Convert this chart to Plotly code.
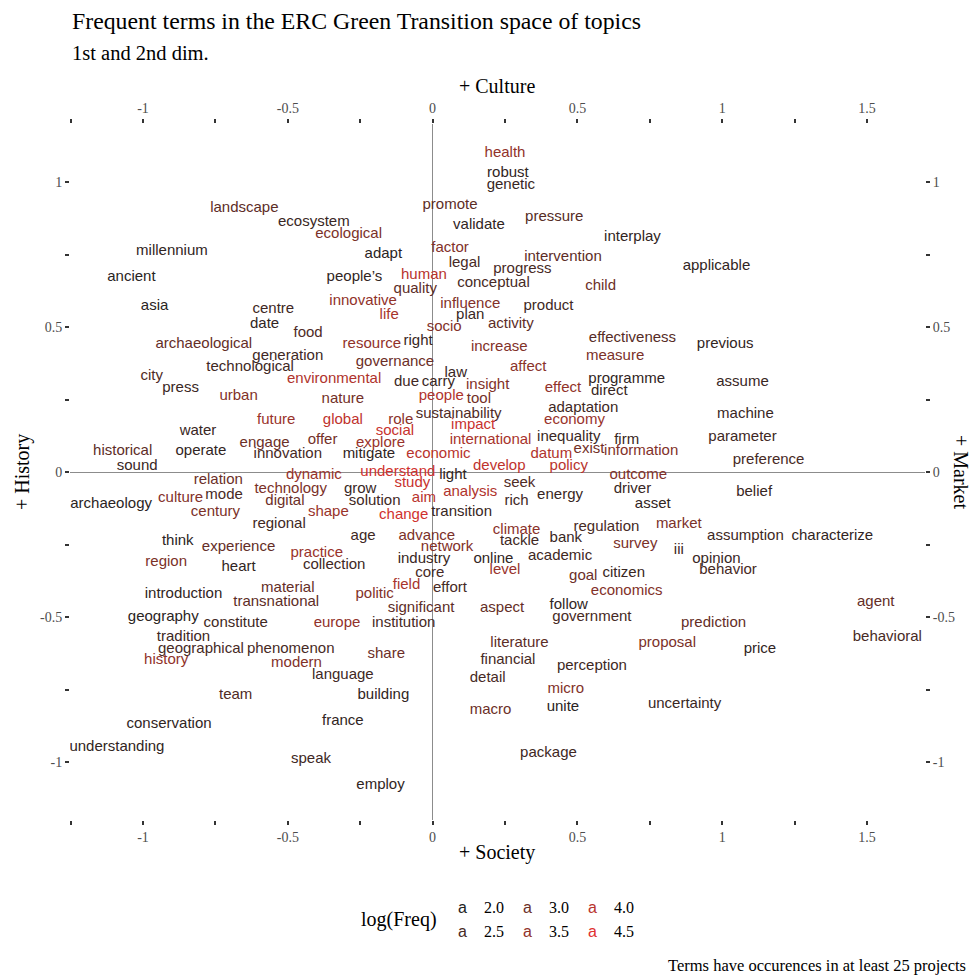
import plotly.graph_objects as go


# terms, their coordinates on the 1st / 2nd dimension and log frequency
WORDS = [
    'health', 'robust', 'genetic', 'promote', 'landscape', 'ecosystem', 'ecological', 'validate',
    'pressure', 'interplay', 'millennium', 'adapt', 'factor', 'legal', 'progress', 'intervention',
    'applicable', 'ancient', 'people\u2019s', 'human', 'quality', 'conceptual', 'child', 'innovative',
    'influence', 'product', 'asia', 'centre', 'life', 'plan', 'date', 'food',
    'socio', 'activity', 'effectiveness', 'previous', 'archaeological', 'resource', 'right', 'increase',
    'generation', 'measure', 'governance', 'technological', 'law', 'affect', 'city', 'press',
    'environmental', 'due', 'carry', 'insight', 'effect', 'programme', 'direct', 'assume',
    'urban', 'nature', 'people', 'tool', 'sustainability', 'adaptation', 'role', 'economy',
    'machine', 'future', 'global', 'water', 'impact', 'social', 'inequality', 'firm',
    'parameter', 'international', 'offer', 'explore', 'engage', 'historical', 'operate', 'innovation',
    'mitigate', 'economic', 'exist', 'datum', 'information', 'preference', 'sound', 'develop',
    'policy', 'dynamic', 'understand', 'light', 'outcome', 'relation', 'study', 'seek',
    'technology', 'grow', 'analysis', 'driver', 'belief', 'archaeology', 'culture', 'mode',
    'digital', 'solution', 'aim', 'rich', 'energy', 'asset', 'century', 'shape',
    'change', 'transition', 'regional', 'climate', 'regulation', 'market', 'assumption', 'characterize',
    'age', 'advance', 'tackle', 'bank', 'survey', 'think', 'experience', 'network',
    'practice', 'iii', 'region', 'collection', 'industry', 'online', 'academic', 'opinion',
    'heart', 'core', 'level', 'goal', 'citizen', 'behavior', 'field', 'effort',
    'material', 'introduction', 'politic', 'economics', 'transnational', 'significant', 'aspect', 'follow',
    'agent', 'geography', 'constitute', 'europe', 'institution', 'government', 'prediction', 'tradition',
    'literature', 'proposal', 'behavioral', 'geographical', 'phenomenon', 'price', 'history', 'modern',
    'financial', 'share', 'perception', 'language', 'detail', 'team', 'building', 'micro',
    'conservation', 'france', 'macro', 'unite', 'uncertainty', 'understanding', 'package', 'speak',
    'employ',
]

DIM1 = [
    0.25, 0.26, 0.27, 0.06, -0.65, -0.41, -0.29, 0.16,
    0.42, 0.69, -0.90, -0.17, 0.06, 0.11, 0.31, 0.45,
    0.98, -1.04, -0.27, -0.03, -0.06, 0.21, 0.58, -0.24,
    0.13, 0.40, -0.96, -0.55, -0.15, 0.13, -0.58, -0.43,
    0.04, 0.27, 0.69, 1.01, -0.79, -0.21, -0.05, 0.23,
    -0.50, 0.63, -0.13, -0.63, 0.08, 0.33, -0.97, -0.87,
    -0.34, -0.09, 0.02, 0.19, 0.45, 0.67, 0.61, 1.07,
    -0.67, -0.31, 0.03, 0.16, 0.09, 0.52, -0.11, 0.49,
    1.08, -0.54, -0.31, -0.81, 0.14, -0.13, 0.47, 0.67,
    1.07, 0.20, -0.38, -0.18, -0.58, -1.07, -0.80, -0.50,
    -0.22, 0.02, 0.54, 0.41, 0.72, 1.16, -1.02, 0.23,
    0.47, -0.41, -0.12, 0.07, 0.71, -0.74, -0.07, 0.30,
    -0.49, -0.25, 0.13, 0.69, 1.11, -1.11, -0.87, -0.72,
    -0.51, -0.20, -0.03, 0.29, 0.44, 0.76, -0.75, -0.36,
    -0.10, 0.10, -0.53, 0.29, 0.60, 0.85, 1.08, 1.38,
    -0.24, -0.02, 0.30, 0.46, 0.70, -0.88, -0.67, 0.05,
    -0.40, 0.85, -0.92, -0.34, -0.03, 0.21, 0.44, 0.98,
    -0.67, -0.01, 0.25, 0.52, 0.66, 1.02, -0.09, 0.06,
    -0.50, -0.86, -0.20, 0.67, -0.54, -0.04, 0.24, 0.47,
    1.53, -0.93, -0.68, -0.33, -0.10, 0.55, 0.97, -0.86,
    0.30, 0.81, 1.57, -0.80, -0.49, 1.13, -0.92, -0.47,
    0.26, -0.16, 0.55, -0.31, 0.19, -0.68, -0.17, 0.46,
    -0.91, -0.31, 0.20, 0.45, 0.87, -1.09, 0.40, -0.42,
    -0.18,
]

DIM2 = [
    1.10, 1.03, 0.99, 0.92, 0.91, 0.86, 0.82, 0.85,
    0.88, 0.81, 0.76, 0.75, 0.77, 0.72, 0.70, 0.74,
    0.71, 0.67, 0.67, 0.68, 0.63, 0.65, 0.64, 0.59,
    0.58, 0.57, 0.57, 0.56, 0.54, 0.54, 0.51, 0.48,
    0.50, 0.51, 0.46, 0.44, 0.44, 0.44, 0.45, 0.43,
    0.40, 0.40, 0.38, 0.36, 0.34, 0.36, 0.33, 0.29,
    0.32, 0.31, 0.31, 0.30, 0.29, 0.32, 0.28, 0.31,
    0.26, 0.25, 0.26, 0.25, 0.20, 0.22, 0.18, 0.18,
    0.20, 0.18, 0.18, 0.14, 0.16, 0.14, 0.12, 0.11,
    0.12, 0.11, 0.11, 0.10, 0.10, 0.07, 0.07, 0.06,
    0.06, 0.06, 0.08, 0.06, 0.07, 0.04, 0.02, 0.02,
    0.02, -0.01, 0.00, -0.01, -0.01, -0.03, -0.04, -0.04,
    -0.06, -0.06, -0.07, -0.06, -0.07, -0.11, -0.09, -0.08,
    -0.10, -0.10, -0.09, -0.10, -0.08, -0.11, -0.14, -0.14,
    -0.15, -0.14, -0.18, -0.20, -0.19, -0.18, -0.22, -0.22,
    -0.22, -0.22, -0.24, -0.23, -0.25, -0.24, -0.26, -0.26,
    -0.28, -0.27, -0.31, -0.32, -0.30, -0.30, -0.29, -0.30,
    -0.33, -0.35, -0.34, -0.36, -0.35, -0.34, -0.39, -0.40,
    -0.40, -0.42, -0.42, -0.41, -0.45, -0.47, -0.47, -0.46,
    -0.45, -0.50, -0.52, -0.52, -0.52, -0.50, -0.52, -0.57,
    -0.59, -0.59, -0.57, -0.61, -0.61, -0.61, -0.65, -0.66,
    -0.65, -0.63, -0.67, -0.70, -0.71, -0.77, -0.77, -0.75,
    -0.87, -0.86, -0.82, -0.81, -0.80, -0.95, -0.97, -0.99,
    -1.08,
]

LOG_FREQ = [
    3.5, 2.2, 2.3, 2.8, 2.8, 2.3, 3.2, 2.2,
    2.7, 2.2, 2.2, 2.1, 3.3, 2.5, 2.5, 2.8,
    2.2, 2.1, 2.2, 4.0, 2.8, 2.5, 3.0, 3.5,
    3.3, 2.4, 2.1, 2.4, 3.8, 2.3, 2.2, 2.6,
    3.3, 2.8, 2.7, 2.2, 2.9, 3.5, 2.3, 3.3,
    2.4, 3.2, 3.0, 2.4, 2.3, 3.4, 2.6, 2.3,
    3.9, 2.4, 2.3, 3.3, 3.5, 2.2, 2.3, 2.3,
    3.3, 3.1, 3.9, 3.1, 2.6, 2.4, 3.4, 3.6,
    2.3, 3.6, 4.1, 2.3, 4.2, 4.2, 2.3, 2.3,
    2.4, 3.8, 3.1, 3.6, 3.0, 2.8, 2.2, 2.5,
    2.2, 4.0, 3.1, 3.9, 3.3, 2.5, 2.3, 4.1,
    4.0, 3.6, 4.3, 2.2, 3.3, 3.0, 4.2, 2.6,
    3.2, 2.3, 3.9, 2.3, 2.3, 2.1, 3.3, 2.5,
    3.0, 2.4, 4.0, 2.4, 2.3, 2.2, 3.2, 3.6,
    4.3, 2.3, 2.4, 3.4, 2.5, 3.2, 2.4, 2.2,
    2.4, 3.2, 2.4, 2.3, 3.2, 2.1, 2.9, 3.3,
    3.6, 2.4, 3.2, 2.4, 2.3, 2.2, 2.4, 2.3,
    2.2, 2.5, 3.6, 3.0, 2.3, 2.5, 3.8, 2.5,
    2.9, 2.2, 3.3, 3.3, 2.8, 2.8, 2.9, 2.2,
    2.9, 2.1, 2.4, 3.5, 2.5, 2.5, 2.9, 2.4,
    2.8, 3.2, 2.5, 2.5, 2.5, 2.2, 3.5, 3.3,
    2.5, 3.0, 2.4, 2.4, 2.5, 2.6, 2.2, 3.3,
    2.2, 2.2, 3.0, 2.1, 2.3, 2.2, 2.4, 2.4,
    2.2,
]

LEGEND_LEVELS = [2.0, 2.5, 3.0, 3.5, 4.0, 4.5]

TICK_VALS = [-1.25, -1, -0.75, -0.5, -0.25, 0, 0.25, 0.5, 0.75, 1, 1.25, 1.5]
TICK_TEXT = ['', '-1', '', '-0.5', '', '0', '', '0.5', '', '1', '', '1.5']

LOW, HIGH = '#222222', '#e02f2f'
FMIN, FMAX = 2.0, 4.5

SANS = 'Liberation Sans, Arial, sans-serif'
SERIF = 'Liberation Serif, Times New Roman, serif'

# the page puts the figure 8px in from the top-left corner
PAGE = 8
W, H = 979 - PAGE, 976 - PAGE
PANEL = dict(left=70, right=925, top=124, bottom=820)   # panel edges in the window
M = dict(l=PANEL['left'] - PAGE, r=979 - PANEL['right'],
         t=PANEL['top'] - PAGE, b=976 - PANEL['bottom'])


def hexToRgb(h):
    h = h.lstrip('#')
    return [int(h[i:i + 2], 16) / 255 for i in (0, 2, 4)]


def rgbToLab(rgb):
    '''
    sRGB (0-1) to CIELAB, D65
    '''
    lin = [c / 12.92 if c <= 0.04045 else ((c + 0.055) / 1.055) ** 2.4 for c in rgb]
    x = (0.4124 * lin[0] + 0.3576 * lin[1] + 0.1805 * lin[2]) / 0.95047
    y = (0.2126 * lin[0] + 0.7152 * lin[1] + 0.0722 * lin[2])
    z = (0.0193 * lin[0] + 0.1192 * lin[1] + 0.9505 * lin[2]) / 1.08883

    def f(t):
        return t ** (1 / 3) if t > 0.008856 else 7.787 * t + 16 / 116

    fx, fy, fz = f(x), f(y), f(z)
    return [116 * fy - 16, 500 * (fx - fy), 200 * (fy - fz)]


def labToHex(lab):
    L, a, b = lab
    fy = (L + 16) / 116
    fx = fy + a / 500
    fz = fy - b / 200

    def finv(t):
        return t ** 3 if t ** 3 > 0.008856 else (t - 16 / 116) / 7.787

    x, y, z = finv(fx) * 0.95047, finv(fy), finv(fz) * 1.08883
    lin = [3.2406 * x - 1.5372 * y - 0.4986 * z,
           -0.9689 * x + 1.8758 * y + 0.0415 * z,
           0.0557 * x - 0.2040 * y + 1.0570 * z]
    out = []
    for c in lin:
        c = max(0.0, min(1.0, c))
        c = 12.92 * c if c <= 0.0031308 else 1.055 * c ** (1 / 2.4) - 0.055
        out.append(int(round(c * 255)))
    return '#%02x%02x%02x' % tuple(out)


LAB_LOW, LAB_HIGH = rgbToLab(hexToRgb(LOW)), rgbToLab(hexToRgb(HIGH))


def freqColor(v):
    t = max(0.0, min(1.0, (v - FMIN) / (FMAX - FMIN)))
    return labToHex([lo + (hi - lo) * t for lo, hi in zip(LAB_LOW, LAB_HIGH)])


def paperX(px):
    # px: position in the browser window
    return (px - PANEL['left']) / (PANEL['right'] - PANEL['left'])


def paperY(py):
    return (PANEL['bottom'] - py) / (PANEL['bottom'] - PANEL['top'])


def axisStyle(**kw):
    d = dict(
        range=[-1.252, 1.70], tickvals=TICK_VALS, ticktext=TICK_TEXT,
        ticks='outside', ticklen=4, tickwidth=2, tickcolor='#333333',
        tickfont=dict(family=SERIF, size=14, color='#4d4d4d'),
        showgrid=False, showline=False, zeroline=False, automargin=False,
    )
    d.update(kw)
    return d


fig = go.Figure()

fig.add_trace(go.Scatter(
    x=DIM1, y=DIM2, mode='text', text=WORDS,
    textposition='middle center', cliponaxis=True,
    textfont=dict(family=SANS, size=15, color=[freqColor(v) for v in LOG_FREQ]),
    showlegend=False, hoverinfo='text',
))

# empty trace so the mirrored top / right axes get drawn
fig.add_trace(go.Scatter(x=[None], y=[None], xaxis='x2', yaxis='y2',
                         mode='markers', showlegend=False, hoverinfo='skip'))

fig.update_layout(
    width=W, height=H, autosize=False, margin=M,
    plot_bgcolor='white', paper_bgcolor='white',
    xaxis=axisStyle(zeroline=True, zerolinecolor='#8c8c8c', zerolinewidth=1),
    xaxis2=axisStyle(overlaying='x', side='top', matches='x'),
    yaxis=axisStyle(range=[-1.2, 1.2], tickvals=TICK_VALS[1:-2], ticktext=TICK_TEXT[1:-2],
                    zeroline=True, zerolinecolor='#8c8c8c', zerolinewidth=1),
    yaxis2=axisStyle(range=[-1.2, 1.2], tickvals=TICK_VALS[1:-2], ticktext=TICK_TEXT[1:-2],
                     overlaying='y', side='right', matches='y'),
)

notes = [
    dict(text='Frequent terms in the ERC Green Transition space of topics', x=paperX(70), y=paperY(21),
         xanchor='left', font=dict(family=SERIF, size=23.8, color='black')),
    dict(text='1st and 2nd dim.', x=paperX(70), y=paperY(53),
         xanchor='left', font=dict(family=SERIF, size=20.5, color='black')),
    dict(text='+ Culture', x=paperX(497), y=paperY(86), font=dict(family=SERIF, size=20, color='black')),
    dict(text='+ Society', x=paperX(497), y=paperY(853), font=dict(family=SERIF, size=20, color='black')),
    dict(text='+ History', x=paperX(22), y=paperY(472), textangle=-90,
         font=dict(family=SERIF, size=20, color='black')),
    dict(text='+ Market', x=paperX(961), y=paperY(472), textangle=90,
         font=dict(family=SERIF, size=20, color='black')),
    dict(text='log(Freq)', x=paperX(399), y=paperY(919), font=dict(family=SERIF, size=20, color='black')),
    dict(text='Terms have occurences in at least 25 projects', x=paperX(968), y=paperY(966),
         xanchor='right', font=dict(family=SERIF, size=16.5, color='black')),
]

# colour legend: 3 columns x 2 rows
for i, lev in enumerate(LEGEND_LEVELS):
    col, row = i // 2, i % 2
    kx = 462 + 65 * col
    ky = 907 + 24 * row
    notes.append(dict(text='a', x=paperX(kx), y=paperY(ky),
                      font=dict(family=SANS, size=16, color=freqColor(lev))))
    notes.append(dict(text='%.1f' % lev, x=paperX(kx + 32), y=paperY(ky),
                      font=dict(family=SERIF, size=16, color='black')))

for n in notes:
    n.update(xref='paper', yref='paper', showarrow=False, yanchor='middle')
    n.setdefault('xanchor', 'center')
    fig.add_annotation(**n)

fig.write_html('out.html')
